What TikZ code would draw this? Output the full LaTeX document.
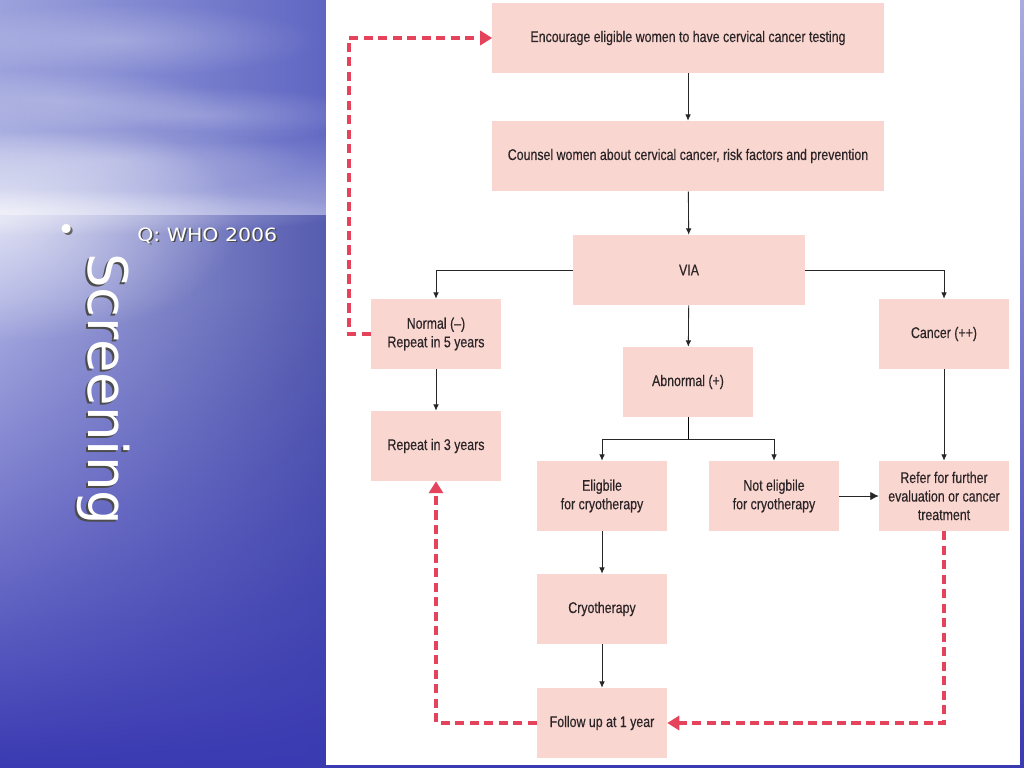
\documentclass[tikz,border=0pt]{standalone}
\usepackage{fontspec}
\setmainfont{Liberation Sans}
\newfontfamily\flowfont[FakeStretch=0.8,FakeBold=0.4]{Liberation Sans}
\newfontfamily\slidefont{DejaVu Sans}
\newfontfamily\widefont[FakeStretch=1.12]{DejaVu Sans}
\usetikzlibrary{arrows.meta,fadings}
\tikzfading[name=glow, inner color=transparent!0, outer color=transparent!100]
\definecolor{boxpink}{HTML}{FAD6D0}
\definecolor{textgray}{HTML}{2B2527}
\definecolor{backred}{HTML}{E5435C}
\definecolor{seablue}{HTML}{3A3AB2}
\definecolor{seapale}{HTML}{A8ACE0}
\definecolor{skyblue}{HTML}{5F66C2}
\definecolor{skypale}{HTML}{9CA2DC}
\begin{document}
\begin{tikzpicture}[x=0.025cm,y=-0.025cm,
    box/.style={fill=boxpink, text=textgray, align=center, inner sep=0pt,
        minimum width=3.25cm, minimum height=1.75cm, font=\flowfont\fontsize{11}{13.2}\selectfont},
    wide/.style={box, minimum width=9.775cm},
    link/.style={-{Latex[length=4.5pt,width=4pt]}, line width=0.6pt, black!85},
    biglink/.style={link, -{Latex[length=6pt,width=6pt]}},
    back/.style={-{Triangle[length=8.5pt,width=10pt]}, line width=2.6pt, backred, dash pattern=on 6.5pt off 3.8pt},
    cloud/.style={white, path fading=glow, opacity=0.25}]
    \useasboundingbox (0,0) rectangle (1024,768);
    % slide background
    \shade[top color=seapale, bottom color=seablue] (0,0) rectangle (1024,768);
    \shade[left color=skypale, right color=skyblue] (0,0) rectangle (326,215);
    \fill[white, path fading=north, opacity=0.4] (0,130) rectangle (326,215);
    \fill[cloud] (120,40) ellipse (5cm and 0.9cm);
    \fill[cloud] (60,100) ellipse (4cm and 0.8cm);
    \fill[cloud] (200,115) ellipse (4.5cm and 0.7cm);
    \fill[cloud] (110,160) ellipse (5cm and 0.8cm);
    \shade[left color=seapale, right color=skyblue!90!black] (0,215) rectangle (326,768);
    \fill[seablue, path fading=north] (0,300) rectangle (326,768);
    \fill[white, path fading=glow, opacity=0.6] (0,222) ellipse (6cm and 3cm);
    \fill[white, path fading=glow, opacity=0.4] (0,212) ellipse (9cm and 0.6cm);
    \fill[white] (326,0) rectangle (1020,765);
    % slide title
    \node[rotate=-90, anchor=base west, inner sep=0pt, text=black!70, font=\slidefont\fontsize{38.8}{40}\selectfont] (titleshadow) at (86,255) {Screening};
    \node[rotate=-90, anchor=base west, inner sep=0pt, text=white, font=\slidefont\fontsize{38.8}{40}\selectfont] (title) at (88,253) {Screening};
    \node[text=black!60, font=\slidefont\fontsize{22}{22}\selectfont, inner sep=0pt] (dotshadow) at (68.5,234.5) {•};
    \node[text=white, font=\slidefont\fontsize{22}{22}\selectfont, inner sep=0pt] (dot) at (67,233) {•};
    \node[anchor=base west, inner sep=0pt, text=black!70, font=\widefont\fontsize{13}{13}\selectfont] (sourceshadow) at (138.5,242.5) {Q: WHO 2006};
    \node[anchor=base west, inner sep=0pt, text=white, font=\widefont\fontsize{13}{13}\selectfont] (source) at (137,241) {Q: WHO 2006};
    % flow chart
    \node[wide] (enc) at (688,38) {Encourage eligible women to have cervical cancer testing};
    \node[wide] (cou) at (688,156) {Counsel women about cervical cancer, risk factors and prevention};
    \node[box, minimum width=5.775cm] (via) at (689,270) {VIA};
    \node[box] (norm) at (436,334) {Normal (–)\\Repeat in 5 years};
    \node[box] (canc) at (944,334) {Cancer (++)};
    \node[box] (abn) at (688,382) {Abnormal (+)};
    \node[box] (rep) at (436,446) {Repeat in 3 years};
    \node[box] (elig) at (602,496) {Eligbile\\for cryotherapy};
    \node[box] (nelig) at (774,496) {Not eligbile\\for cryotherapy};
    \node[box] (ref) at (944,496) {Refer for further\\evaluation or cancer\\treatment};
    \node[box] (cryo) at (602,609) {Cryotherapy};
    \node[box] (fol) at (602,723) {Follow up at 1 year};
    \draw[link] (enc) -- (cou);
    \draw[link] (cou) -- (via);
    \draw[link] (via.west) -| (norm.north);
    \draw[link] (via.east) -| (canc.north);
    \draw[link] (via) -- (abn);
    \draw[link] (norm) -- (rep);
    \draw (abn.south) -- ++(0,22) coordinate (fork);
    \draw[link] (fork) -| (elig.north);
    \draw[link] (fork) -| (nelig.north);
    \draw[link] (elig) -- (cryo);
    \draw[link] (cryo) -- (fol);
    \draw[biglink] (nelig) -- (ref);
    \draw[link] (canc) -- (ref);
    % return loops
    \draw[back] (norm.west) -- ++(-22,0) |- (enc.west);
    \draw[back] (ref.south) |- (fol.east);
    \draw[back] (fol.west) -| (rep.south);
\end{tikzpicture}
\end{document}
